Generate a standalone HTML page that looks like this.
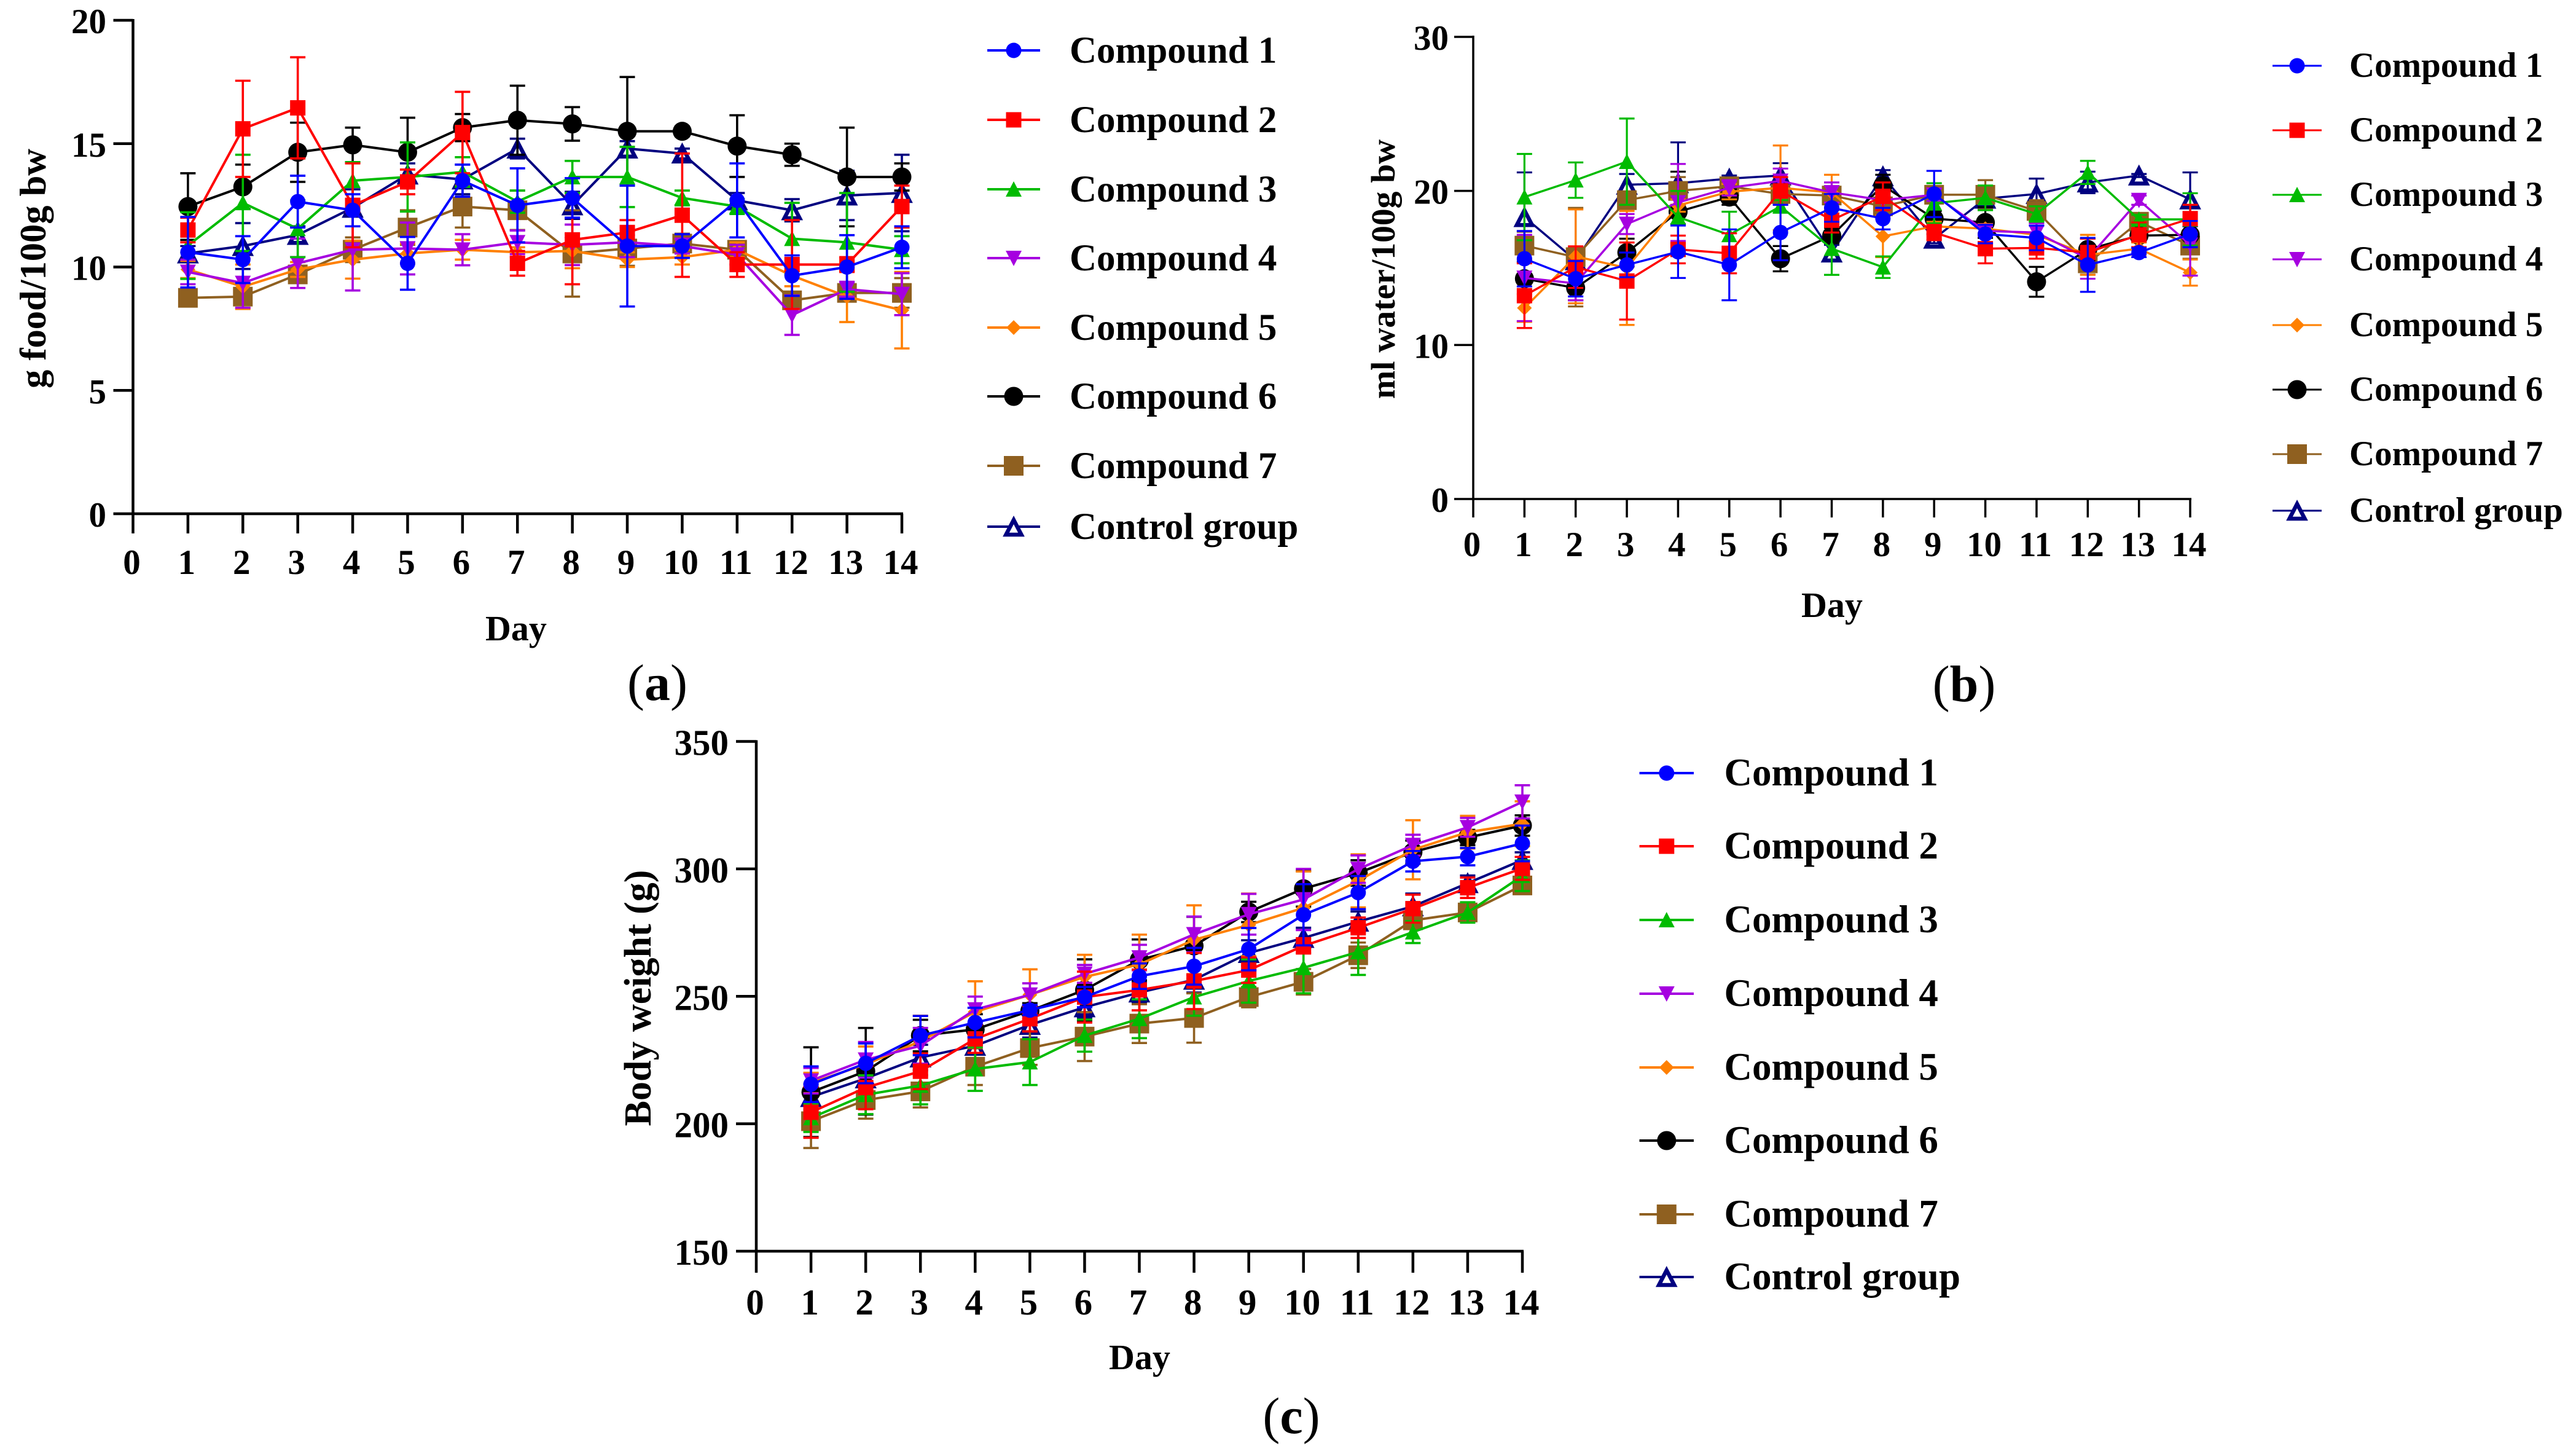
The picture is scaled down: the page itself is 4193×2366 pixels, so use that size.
<!DOCTYPE html>
<html lang="en">
<head>
<meta charset="utf-8">
<title>Food intake, water intake and body weight over 14 days</title>
<style>
html,body{margin:0;padding:0;background:#fff;}
svg{display:block;}
text{font-family:"Liberation Serif",serif;fill:#000;}
.bold{font-weight:bold;}
</style>
</head>
<body>
<svg id="figure" xmlns="http://www.w3.org/2000/svg" width="4193" height="2366" viewBox="0 0 4193 2366">
<rect x="0" y="0" width="4193" height="2366" fill="#ffffff"/>
<text x="1070" y="1139" font-size="84" text-anchor="middle">(<tspan font-weight="bold">a</tspan>)</text>
<text x="3197" y="1141" font-size="84" text-anchor="middle">(<tspan font-weight="bold">b</tspan>)</text>
<text x="2102" y="2332" font-size="84" text-anchor="middle">(<tspan font-weight="bold">c</tspan>)</text>
<text class="bold" font-size="60.5" text-anchor="middle" transform="translate(74,437) rotate(-90)">g food/100g bw</text>
<text class="bold" font-size="58" text-anchor="middle" x="840" y="1042">Day</text>
<text class="bold" font-size="55.5" text-anchor="middle" transform="translate(2270,438) rotate(-90)">ml water/100g bw</text>
<text class="bold" font-size="58" text-anchor="middle" x="2982" y="1004">Day</text>
<text class="bold" font-size="62" text-anchor="middle" transform="translate(1059,1624) rotate(-90)">Body weight (g)</text>
<text class="bold" font-size="58" text-anchor="middle" x="1855" y="2228">Day</text>
</svg>
<script>
// ---- shared categories and labels ----
const days = [1,2,3,4,5,6,7,8,9,10,11,12,13,14];
const xTickLabels = [0,1,2,3,4,5,6,7,8,9,10,11,12,13,14];
const seriesNames = ["Compound 1","Compound 2","Compound 3","Compound 4","Compound 5","Compound 6","Compound 7","Control group"];
const foodYTicks = [0,5,10,15,20];
const waterYTicks = [0,10,20,30];
const weightYTicks = [150,200,250,300,350];

// ---- panel (a): food intake, g food/100g bw ----
const foodC1 = [10.6,10.3,12.65,12.3,10.15,13.5,12.5,12.8,10.85,10.85,12.7,9.65,10,10.8];
const foodC1Err = [1.43,.95,1.05,.65,1.07,.65,1.5,.8,2.45,.48,1.5,.82,1.29,.85];
const foodC2 = [11.5,15.6,16.45,12.5,13.45,15.45,10.15,11.1,11.4,12.1,10.1,10.1,10.1,12.45];
const foodC2Err = [.5,1.95,2.05,1.7,.5,1.65,.5,1.8,.5,2.5,.5,1.8,.3,.85];
const foodC3 = [10.87,12.6,11.55,13.5,13.65,13.85,12.65,13.65,13.65,12.8,12.45,11.15,11,10.7];
const foodC3Err = [1.35,1.95,1.15,.75,1.4,.6,.45,.65,1.22,.3,.3,1.45,2,.55];
const foodC4 = [9.8,9.35,10.15,10.7,10.75,10.7,11,10.9,11,10.85,10.5,8.05,9.1,8.9];
const foodC4Err = [.5,1,1,1.65,1.05,.63,.48,.82,.6,.3,.4,.8,.3,.85];
const foodC5 = [9.9,9.2,9.9,10.3,10.55,10.7,10.6,10.65,10.3,10.4,10.7,9.65,8.8,8.25];
const foodC5Err = [.35,.9,.3,.77,.4,.4,.2,.7,.3,.3,.3,.43,1.03,1.55];
const foodC6 = [12.45,13.25,14.65,14.95,14.65,15.65,15.95,15.8,15.5,15.5,14.9,14.55,13.65,13.65];
const foodC6Err = [1.35,.9,1.2,.7,1.4,.55,1.4,.68,2.2,.2,1.25,.45,2,.55];
const foodC7 = [8.75,8.8,9.7,10.7,11.6,12.45,12.3,10.55,10.75,10.95,10.7,8.65,8.95,8.95];
const foodC7Err = [.3,.3,.3,.5,.7,.85,.8,1.75,.7,.4,.3,.3,.3,.6];
const foodCtl = [10.55,10.85,11.3,12.4,13.75,13.55,14.8,12.5,14.8,14.6,12.7,12.3,12.9,13];
const foodCtlErr = [.3,.93,.35,.75,.45,.6,.4,.55,.3,.2,.3,.45,1,1.55];

// ---- panel (b): water intake, ml water/100g bw ----
const waterC1 = [15.6,14.3,15.2,16.05,15.2,17.3,18.9,18.2,19.8,17.2,16.95,15.2,16,17.2];
const waterC1Err = [1.8,1.15,.8,1.7,2.3,1.8,.9,.7,1.5,.6,.8,1.75,.3,.85];
const waterC2 = [13.2,15.05,14.15,16.2,15.95,20,18.1,19.65,17.3,16.25,16.3,16,17.15,18.2];
const waterC2Err = [2.1,1.35,2.5,.9,1.3,.9,.8,.9,.5,.95,.7,.9,.8,.9];
const waterC3 = [19.6,20.7,21.9,18.3,17.15,19,16.25,15.05,19.2,19.55,18.5,21.2,18.15,18.15];
const waterC3Err = [2.8,1.15,2.8,1.7,1.5,.4,1.7,.7,1.3,.8,.5,.75,.3,1.7];
const waterC4 = [14.35,14,17.85,19.25,20.2,20.65,19.9,19.4,19.75,17.4,17.3,15.6,19.4,16.5];
const waterC4Err = [2.8,1.1,.65,2.5,.5,.8,.65,.5,.4,.3,.6,1.3,.3,2];
const waterC5 = [12.4,15.75,15,19.05,19.95,20.2,19.9,17.05,17.7,17.55,17.15,15.85,16.25,14.7];
const waterC5Err = [.9,3.05,3.7,.4,.5,2.75,1.15,1.35,.3,.3,.9,1.3,.4,.85];
const waterC6 = [14.3,13.7,16,18.65,19.6,15.6,17.1,20.35,18.2,17.95,14.1,16.2,17.1,17.15];
const waterC6Err = [.3,.8,.9,2.6,.5,.82,.5,.7,.5,1,.97,.7,.4,.8];
const waterC7 = [16.45,15.7,19.4,20,20.3,19.8,19.7,19,19.75,19.75,18.7,15.3,18,16.45];
const waterC7Err = [.9,3.2,.5,.9,.4,.4,.5,.5,.4,.95,.7,.73,.5,.85];
const waterCtl = [18.3,15.5,20.4,20.5,20.8,21,16,20.95,16.9,19.5,19.8,20.55,21,19.45];
const waterCtlErr = [2.9,.3,.7,2.65,.2,.8,.5,.4,.3,.6,1,.7,.1,1.75];

// ---- panel (c): body weight, g ----
const weightC1 = [215.5,223.7,234.6,239.7,244.6,249.7,257.9,261.8,268.5,282,290.7,303,304.8,310];
const weightC1Err = [7,7.8,7.7,5.8,2,4,5,7.2,8.3,12,6.5,4,3.4,7];
const weightC2 = [204.5,214.2,220.6,233.3,241.2,249.7,252.5,256,260.3,269.8,276.9,284.4,292.6,300.2];
const weightC2Err = [10,8.5,7,5.5,5,10,8,11,5,3,4,5.5,4,4.5];
const weightC3 = [202.3,211.4,215,221.5,224.2,234.6,241.2,249.7,256,261.2,267.4,275.2,282.9,297.3];
const weightC3Err = [5.5,7.6,7.4,8.6,9,6.3,7.6,7.3,8.5,10,9,4.3,4,6];
const weightC4 = [216.9,225.1,230.6,244.8,250.6,258.8,265.2,274.3,282.2,288,299.9,309.3,316.3,326.3];
const weightC4Err = [5,7,7,5.1,4.5,3.5,5,7,8,12,5.4,4.1,3.7,6.5];
const weightC5 = [216,223.3,232.4,243.9,250.6,257.6,262.5,272.2,278,284.7,295.3,307.5,314.4,317.7];
const weightC5Err = [4,7,10,12,10,8.7,11.7,13.5,12.3,14.3,10.4,11.6,6.4,8.8];
const weightC6 = [212.4,220.6,234.6,237,244.3,252.5,264.3,269.8,283.1,292.2,298.4,306.6,312.3,317];
const weightC6Err = [17.6,17,6.2,6,3,12,8,11.4,4,7,5,4.5,3,4];
const weightC7 = [201,209.3,212.7,222.4,229.7,234.2,239.3,241.5,249.7,255.7,266.1,279.8,282.9,293.5];
const weightC7Err = [10.5,7.3,6.3,7.2,6.6,9.6,7.6,9.7,4,5,5,3,3,3];
const weightCtl = [210.5,217.8,226,230.6,238.8,245.7,251.5,256.5,267,272.9,279.3,285.3,294.4,303.5];
const weightCtlErr = [5,5,5,5,5,4,4,5,5,4,4,5,3,3];

const NS = "http://www.w3.org/2000/svg";
const figure = document.getElementById("figure");

const styles = [
  {color:"#0000ff", shape:"circle"},
  {color:"#ff0000", shape:"square"},
  {color:"#00bb00", shape:"triUp"},
  {color:"#a600e0", shape:"triDown"},
  {color:"#ff8000", shape:"diamond"},
  {color:"#000000", shape:"bigCircle"},
  {color:"#8f6020", shape:"bigSquare"},
  {color:"#000080", shape:"hollowTri"}
];

function make(tag, parent, attrs){
  const node = document.createElementNS(NS, tag);
  for (const k in attrs) node.setAttribute(k, attrs[k]);
  parent.appendChild(node);
  return node;
}

function drawMarker(parent, shape, color, cx, cy){
  let m;
  if (shape === "circle") m = make("circle", parent, {cx:cx, cy:cy, r:12.5, fill:color});
  else if (shape === "bigCircle") m = make("circle", parent, {cx:cx, cy:cy, r:15.5, fill:color});
  else if (shape === "square") m = make("rect", parent, {x:cx-12.5, y:cy-12.5, width:25, height:25, fill:color});
  else if (shape === "bigSquare") m = make("rect", parent, {x:cx-16, y:cy-16, width:32, height:32, fill:color});
  else if (shape === "triUp") m = make("polygon", parent, {points:[cx,cy-13,cx+13,cy+12,cx-13,cy+12].join(" "), fill:color});
  else if (shape === "triDown") m = make("polygon", parent, {points:[cx,cy+13,cx+13,cy-12,cx-13,cy-12].join(" "), fill:color});
  else if (shape === "diamond") m = make("polygon", parent, {points:[cx,cy-12,cx+12,cy,cx,cy+12,cx-12,cy].join(" "), fill:color});
  else m = make("polygon", parent, {points:[cx,cy-11,cx+12.5,cy+13,cx-12.5,cy+13].join(" "), fill:"#ffffff", stroke:color, "stroke-width":6.5, "stroke-linejoin":"miter", "stroke-miterlimit":8});
  
  
  return m;
}

function drawPanel(p){
  const g = make("g", figure, {});
  
  
  const sx = d => p.x0 + d * (p.x14 - p.x0) / 14;
  const sy = v => p.yBottom - (v - p.yTicks[0]) / (p.yTicks[p.yTicks.length-1] - p.yTicks[0]) * (p.yBottom - p.yTop);

  // series: drawn last-to-first so Compound 1 is on top
  for (let s = p.series.length - 1; s >= 0; s--){
    const st = styles[s];
    const vals = p.series[s][0];
    const errs = p.series[s][1];
    const sg = make("g", g, {});
    
    
    const pts = days.map((d,i) => sx(d) + "," + sy(vals[i])).join(" ");
    const line = make("polyline", sg, {points:pts, fill:"none", stroke:st.color, "stroke-width":p.lw, "stroke-linejoin":"round"});
    
    
    days.forEach((d,i) => {
      drawMarker(sg, st.shape, st.color, sx(d), sy(vals[i]));
    });
    days.forEach((d,i) => {
      const x = sx(d), hi = sy(vals[i] + errs[i]), lo = sy(vals[i] - errs[i]);
      const path = "M" + x + " " + hi + "V" + lo + "M" + (x-12.5) + " " + hi + "H" + (x+12.5) + "M" + (x-12.5) + " " + lo + "H" + (x+12.5);
      const eb = make("path", sg, {d:path, fill:"none", stroke:st.color, "stroke-width":p.eb});
      
      
    });
  }

  const yAxis = make("line", g, {x1:p.x0, y1:p.yTop-2, x2:p.x0, y2:p.yBottom+2, stroke:"#000", "stroke-width":p.ax});
  
  
  const xAxis = make("line", g, {x1:p.x0-2, y1:p.yBottom, x2:p.x14+2, y2:p.yBottom, stroke:"#000", "stroke-width":p.ax});
  
  

  p.yTicks.forEach(v => {
    const t = make("line", g, {x1:p.x0-p.yTickLen, y1:sy(v), x2:p.x0, y2:sy(v), stroke:"#000", "stroke-width":p.ax});
    
    
    const lab = make("text", g, {x:p.yLabelX, y:sy(v)+p.yLabelDy, "text-anchor":"end", "font-size":p.tickFont, "class":"bold"});
    
    
    lab.textContent = v;
  });
  xTickLabels.forEach(v => {
    const t = make("line", g, {x1:sx(v), y1:p.yBottom, x2:sx(v), y2:p.yBottom+p.xTickLen, stroke:"#000", "stroke-width":p.ax});
    
    
    const lab = make("text", g, {x:sx(v)-2, y:p.xLabelY, "text-anchor":"middle", "font-size":p.tickFont, "class":"bold"});
    
    
    lab.textContent = v;
  });

  // legend
  const lg = make("g", g, {});
  
  
  seriesNames.forEach((name,i) => {
    const y = p.legend.ys[i];
    const entry = make("g", lg, {});
    
    
    const ln = make("line", entry, {x1:p.legend.x1, y1:y, x2:p.legend.x2, y2:y, stroke:styles[i].color, "stroke-width":p.legend.lw});
    
    
    drawMarker(entry, styles[i].shape, styles[i].color, (p.legend.x1+p.legend.x2)/2, y);
    const tx = make("text", entry, {x:p.legend.tx, y:y+p.legend.dy, "font-size":p.legend.font, "class":"bold"});
    
    
    tx.textContent = name;
  });
}

drawPanel({
  x0:216.5, x14:1468, yBottom:836, yTop:33, yTicks:foodYTicks,
  lw:4, eb:3.6, ax:4.5, yTickLen:32, xTickLen:32, yLabelX:173, yLabelDy:21, xLabelY:934, tickFont:57,
  series:[[foodC1,foodC1Err],[foodC2,foodC2Err],[foodC3,foodC3Err],[foodC4,foodC4Err],[foodC5,foodC5Err],[foodC6,foodC6Err],[foodC7,foodC7Err],[foodCtl,foodCtlErr]],
  legend:{x1:1607, x2:1693, tx:1741, font:61, dy:20, lw:4, ys:[82,195,308,420,533,645,758,857]}
});
drawPanel({
  x0:2398, x14:3565, yBottom:812, yTop:60, yTicks:waterYTicks,
  lw:3.5, eb:3.2, ax:3.5, yTickLen:31, xTickLen:30, yLabelX:2358, yLabelDy:21, xLabelY:905, tickFont:57,
  series:[[waterC1,waterC1Err],[waterC2,waterC2Err],[waterC3,waterC3Err],[waterC4,waterC4Err],[waterC5,waterC5Err],[waterC6,waterC6Err],[waterC7,waterC7Err],[waterCtl,waterCtlErr]],
  legend:{x1:3699, x2:3779, tx:3824, font:57, dy:18, lw:3, ys:[107,212,317,422,529,634,739,831]}
});
drawPanel({
  x0:1231, x14:2478, yBottom:2036, yTop:1206.5, yTicks:weightYTicks,
  lw:4, eb:3.6, ax:4.5, yTickLen:33, xTickLen:35, yLabelX:1186, yLabelDy:22, xLabelY:2139, tickFont:59,
  series:[[weightC1,weightC1Err],[weightC2,weightC2Err],[weightC3,weightC3Err],[weightC4,weightC4Err],[weightC5,weightC5Err],[weightC6,weightC6Err],[weightC7,weightC7Err],[weightCtl,weightCtlErr]],
  legend:{x1:2668.5, x2:2757, tx:2806.5, font:63, dy:20, lw:4, ys:[1258,1377,1497,1617,1737,1856,1976,2078]}
});
</script>
</body>
</html>
